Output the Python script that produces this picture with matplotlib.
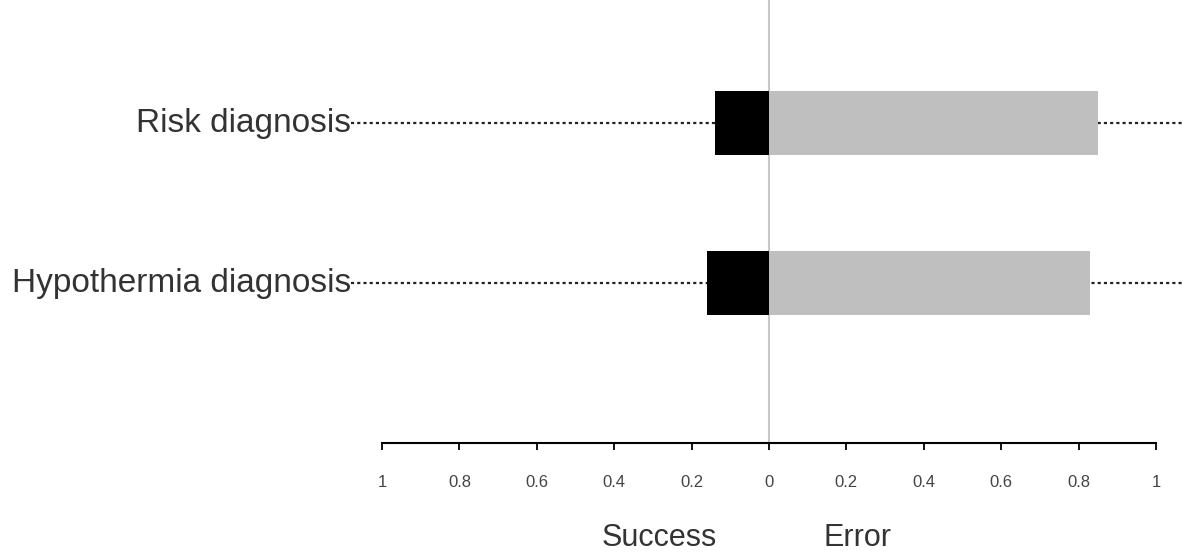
import matplotlib.pyplot as plt
import numpy as np

plt.rcParams["font.family"] = ["Liberation Sans", "DejaVu Sans"]

categories = ["Hypothermia diagnosis", "Risk diagnosis"]
success = [0.16, 0.14]
error = [0.83, 0.85]
ticks = np.round(np.arange(-1.0, 1.01, 0.2), 1)
tick_labels = [f"{abs(t):g}" for t in ticks]

TEXT = "#333333"

fig = plt.figure(figsize=(11.84, 5.54), dpi=100)
ax = fig.add_axes([0.0, 0.2004, 1.0, 0.7996])

y = np.arange(len(categories))
ax.set_xlim(-769 / 387, (1184 - 769) / 387)
ax.set_ylim(-1.0, 1.769)

# dotted guide lines behind the bars
ax.hlines(y, -1.08, ax.get_xlim()[1], colors="#222222", linestyles=(0, (1.4, 1.4)),
          linewidth=1.6, zorder=1)
ax.axvline(0, color="#c8c8c8", linewidth=1.5, zorder=2)

ax.barh(y, [-s for s in success], height=0.4, color="black", zorder=3)
ax.barh(y, error, height=0.4, color="#bfbfbf", zorder=3)

for yi, name in zip(y, categories):
    ax.text(-1.08, yi, name, ha="right", va="center", fontsize=24, color=TEXT)

for s in ["top", "right", "left"]:
    ax.spines[s].set_visible(False)
ax.spines["bottom"].set_bounds(-1, 1)
ax.spines["bottom"].set_linewidth(1.5)
ax.set_yticks([])
ax.set_xticks(ticks)
ax.set_xticklabels(tick_labels)
ax.tick_params(axis="x", direction="out", length=5, width=1.3, pad=18,
               labelsize=12, labelcolor="#444444")

fig.text(659 / 1184, 1 - 538 / 554, "Success", ha="center", va="center",
         fontsize=22, color=TEXT)
fig.text(858 / 1184, 1 - 538 / 554, "Error", ha="center", va="center",
         fontsize=22, color=TEXT)

fig.savefig("out.png", dpi=100)
